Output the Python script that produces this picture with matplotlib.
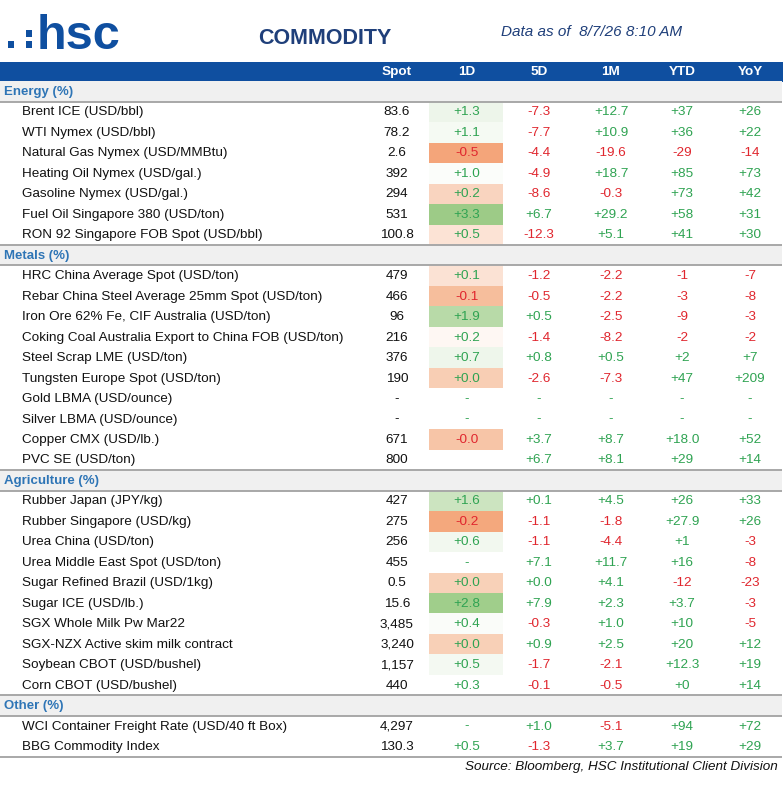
import matplotlib
matplotlib.use("Agg")
import matplotlib.pyplot as plt
from matplotlib.patches import Rectangle

plt.rcParams['font.family'] = ['Liberation Sans', 'DejaVu Sans']

# ---------------- data ----------------
columns = ["Spot", "1D", "5D", "1M", "YTD", "YoY"]
sections = ["Energy (%)", "Metals (%)", "Agriculture (%)", "Other (%)"]

energy_names = ["Brent ICE (USD/bbl)", "WTI Nymex (USD/bbl)", "Natural Gas Nymex (USD/MMBtu)",
                "Heating Oil Nymex (USD/gal.)", "Gasoline Nymex (USD/gal.)",
                "Fuel Oil Singapore 380 (USD/ton)", "RON 92 Singapore FOB Spot (USD/bbl)"]
energy_spot = ["83.6", "78.2", "2.6", "392", "294", "531", "100.8"]
energy_1d = ["+1.3", "+1.1", "-0.5", "+1.0", "+0.2", "+3.3", "+0.5"]
energy_5d = ["-7.3", "-7.7", "-4.4", "-4.9", "-8.6", "+6.7", "-12.3"]
energy_1m = ["+12.7", "+10.9", "-19.6", "+18.7", "-0.3", "+29.2", "+5.1"]
energy_ytd = ["+37", "+36", "-29", "+85", "+73", "+58", "+41"]
energy_yoy = ["+26", "+22", "-14", "+73", "+42", "+31", "+30"]

metals_names = ["HRC China Average Spot (USD/ton)", "Rebar China Steel Average 25mm Spot (USD/ton)",
                "Iron Ore 62% Fe, CIF Australia (USD/ton)",
                "Coking Coal Australia Export to China FOB (USD/ton)", "Steel Scrap LME (USD/ton)",
                "Tungsten Europe Spot (USD/ton)", "Gold LBMA (USD/ounce)", "Silver LBMA (USD/ounce)",
                "Copper CMX (USD/lb.)", "PVC SE (USD/ton)"]
metals_spot = ["479", "466", "96", "216", "376", "190", "-", "-", "671", "800"]
metals_1d = ["+0.1", "-0.1", "+1.9", "+0.2", "+0.7", "+0.0", "-", "-", "-0.0", ""]
metals_5d = ["-1.2", "-0.5", "+0.5", "-1.4", "+0.8", "-2.6", "-", "-", "+3.7", "+6.7"]
metals_1m = ["-2.2", "-2.2", "-2.5", "-8.2", "+0.5", "-7.3", "-", "-", "+8.7", "+8.1"]
metals_ytd = ["-1", "-3", "-9", "-2", "+2", "+47", "-", "-", "+18.0", "+29"]
metals_yoy = ["-7", "-8", "-3", "-2", "+7", "+209", "-", "-", "+52", "+14"]

agri_names = ["Rubber Japan (JPY/kg)", "Rubber Singapore (USD/kg)", "Urea China (USD/ton)",
              "Urea Middle East Spot (USD/ton)", "Sugar Refined Brazil (USD/1kg)", "Sugar ICE (USD/lb.)",
              "SGX Whole Milk Pw Mar22", "SGX-NZX Active skim milk contract",
              "Soybean CBOT (USD/bushel)", "Corn CBOT (USD/bushel)"]
agri_spot = ["427", "275", "256", "455", "0.5", "15.6", "3,485", "3,240", "1,157", "440"]
agri_1d = ["+1.6", "-0.2", "+0.6", "-", "+0.0", "+2.8", "+0.4", "+0.0", "+0.5", "+0.3"]
agri_5d = ["+0.1", "-1.1", "-1.1", "+7.1", "+0.0", "+7.9", "-0.3", "+0.9", "-1.7", "-0.1"]
agri_1m = ["+4.5", "-1.8", "-4.4", "+11.7", "+4.1", "+2.3", "+1.0", "+2.5", "-2.1", "-0.5"]
agri_ytd = ["+26", "+27.9", "+1", "+16", "-12", "+3.7", "+10", "+20", "+12.3", "+0"]
agri_yoy = ["+33", "+26", "-3", "-8", "-23", "-3", "-5", "+12", "+19", "+14"]

other_names = ["WCI Container Freight Rate (USD/40 ft Box)", "BBG Commodity Index"]
other_spot = ["4,297", "130.3"]
other_1d = ["-", "+0.5"]
other_5d = ["+1.0", "-1.3"]
other_1m = ["-5.1", "+3.7"]
other_ytd = ["+94", "+19"]
other_yoy = ["+72", "+29"]

# conditional-format fill of the 1D column (style, as shown in the reference)
energy_1d_fill = ["#EDF5EA", "#F5FAF3", "#F4A57A", "#FBFDFA", "#F9D4BF", "#9DCB87", "#FCE3D5"]
metals_1d_fill = ["#FBE2D4", "#F6BE9C", "#B8DAA8", "#FEF7F3", "#EEF6EB", "#F8CEB4", None, None, "#F7C5A7", None]
agri_1d_fill = ["#CCE4C0", "#F4A87D", "#F2F8EF", None, "#F8D1B8", "#A0CE8B", "#FAFCF9", "#F8D0B7", "#F4F9F2", None]
other_1d_fill = [None, None]

groups = [
    (energy_names, energy_spot, energy_1d, energy_5d, energy_1m, energy_ytd, energy_yoy, energy_1d_fill),
    (metals_names, metals_spot, metals_1d, metals_5d, metals_1m, metals_ytd, metals_yoy, metals_1d_fill),
    (agri_names, agri_spot, agri_1d, agri_5d, agri_1m, agri_ytd, agri_yoy, agri_1d_fill),
    (other_names, other_spot, other_1d, other_5d, other_1m, other_ytd, other_yoy, other_1d_fill),
]

# ---------------- style ----------------
W, H = 784, 800
BLUE = "#0F4FA0"
NAVY = "#1F3F7A"
SEC_BLUE = "#2E75B6"
GREEN = "#2FA352"
RED = "#E0262E"
GRAY_BG = "#F0F0F0"
LINE = "#A8A8A8"
col_x = [397, 467, 539, 611, 682, 750]
cell_x0, cell_x1 = 429, 503
y0 = 91.5
pitch = 20.47
fs = 9.7

fig = plt.figure(figsize=(W / 100, H / 100), dpi=100)
ax = fig.add_axes([0, 0, 1, 1])
ax.set_xlim(0, W)
ax.set_ylim(H, 0)
ax.axis("off")

# logo
for (x, y) in [(8, 41), (26, 30), (26, 41)]:
    ax.add_patch(Rectangle((x, y), 6, 7, color=BLUE, lw=0))
ax.text(37, 49, "hsc", fontsize=35, fontweight="bold", color=BLUE, va="baseline", ha="left")
ax.text(325, 44, "COMMODITY", fontsize=15.5, fontweight="bold", color=NAVY, ha="center", va="baseline")
ax.text(592, 36, "Data as of  8/7/26 8:10 AM", fontsize=11, style="italic", color=NAVY,
        ha="center", va="baseline")

# header bar
ax.add_patch(Rectangle((0, 62), W - 1, 19.5, color=BLUE, lw=0))
for cx, c in zip(col_x, columns):
    ax.text(cx, 72, c, fontsize=9.7, fontweight="bold", color="white", ha="center", va="center")


def val_color(s):
    if s.startswith("-") and len(s) > 1:
        return RED
    return GREEN


row = 0
for sec, g in zip(sections, groups):
    names, spot, d1, d5, m1, ytd, yoy, fill = g
    yc = y0 + row * pitch
    top = yc - pitch / 2
    ax.add_patch(Rectangle((0, top), 782, pitch, facecolor=GRAY_BG, edgecolor="none"))
    if row > 0:
        ax.plot([0, 782], [top, top], color=LINE, lw=1.4, solid_capstyle="butt")
    ax.plot([0, 782], [top + pitch, top + pitch], color=LINE, lw=1.4, solid_capstyle="butt")
    ax.text(4, yc + 0.5, sec, fontsize=9.5, fontweight="bold", color=SEC_BLUE, ha="left", va="center")
    row += 1
    for i in range(len(names)):
        yc = y0 + row * pitch + 0.5
        if fill[i]:
            ax.add_patch(Rectangle((cell_x0, yc - 0.5 - pitch / 2), cell_x1 - cell_x0, pitch,
                                   facecolor=fill[i], edgecolor="none"))
        ax.text(22, yc, names[i], fontsize=fs, color="#111111", ha="left", va="center")
        ax.text(col_x[0], yc, spot[i], fontsize=fs, color="#111111", ha="center", va="center")
        for cx, arr in zip(col_x[1:], [d1, d5, m1, ytd, yoy]):
            s = arr[i]
            if s:
                ax.text(cx, yc, s, fontsize=fs, color=val_color(s), ha="center", va="center")
        row += 1

bottom = y0 + (row - 0.5) * pitch
ax.plot([0, 782], [bottom, bottom], color=LINE, lw=1.4, solid_capstyle="butt")
ax.text(778, bottom + 10.5, "Source: Bloomberg, HSC Institutional Client Division", fontsize=9.7,
        style="italic", color="#111111", ha="right", va="center")

fig.savefig("out.png", dpi=100)
